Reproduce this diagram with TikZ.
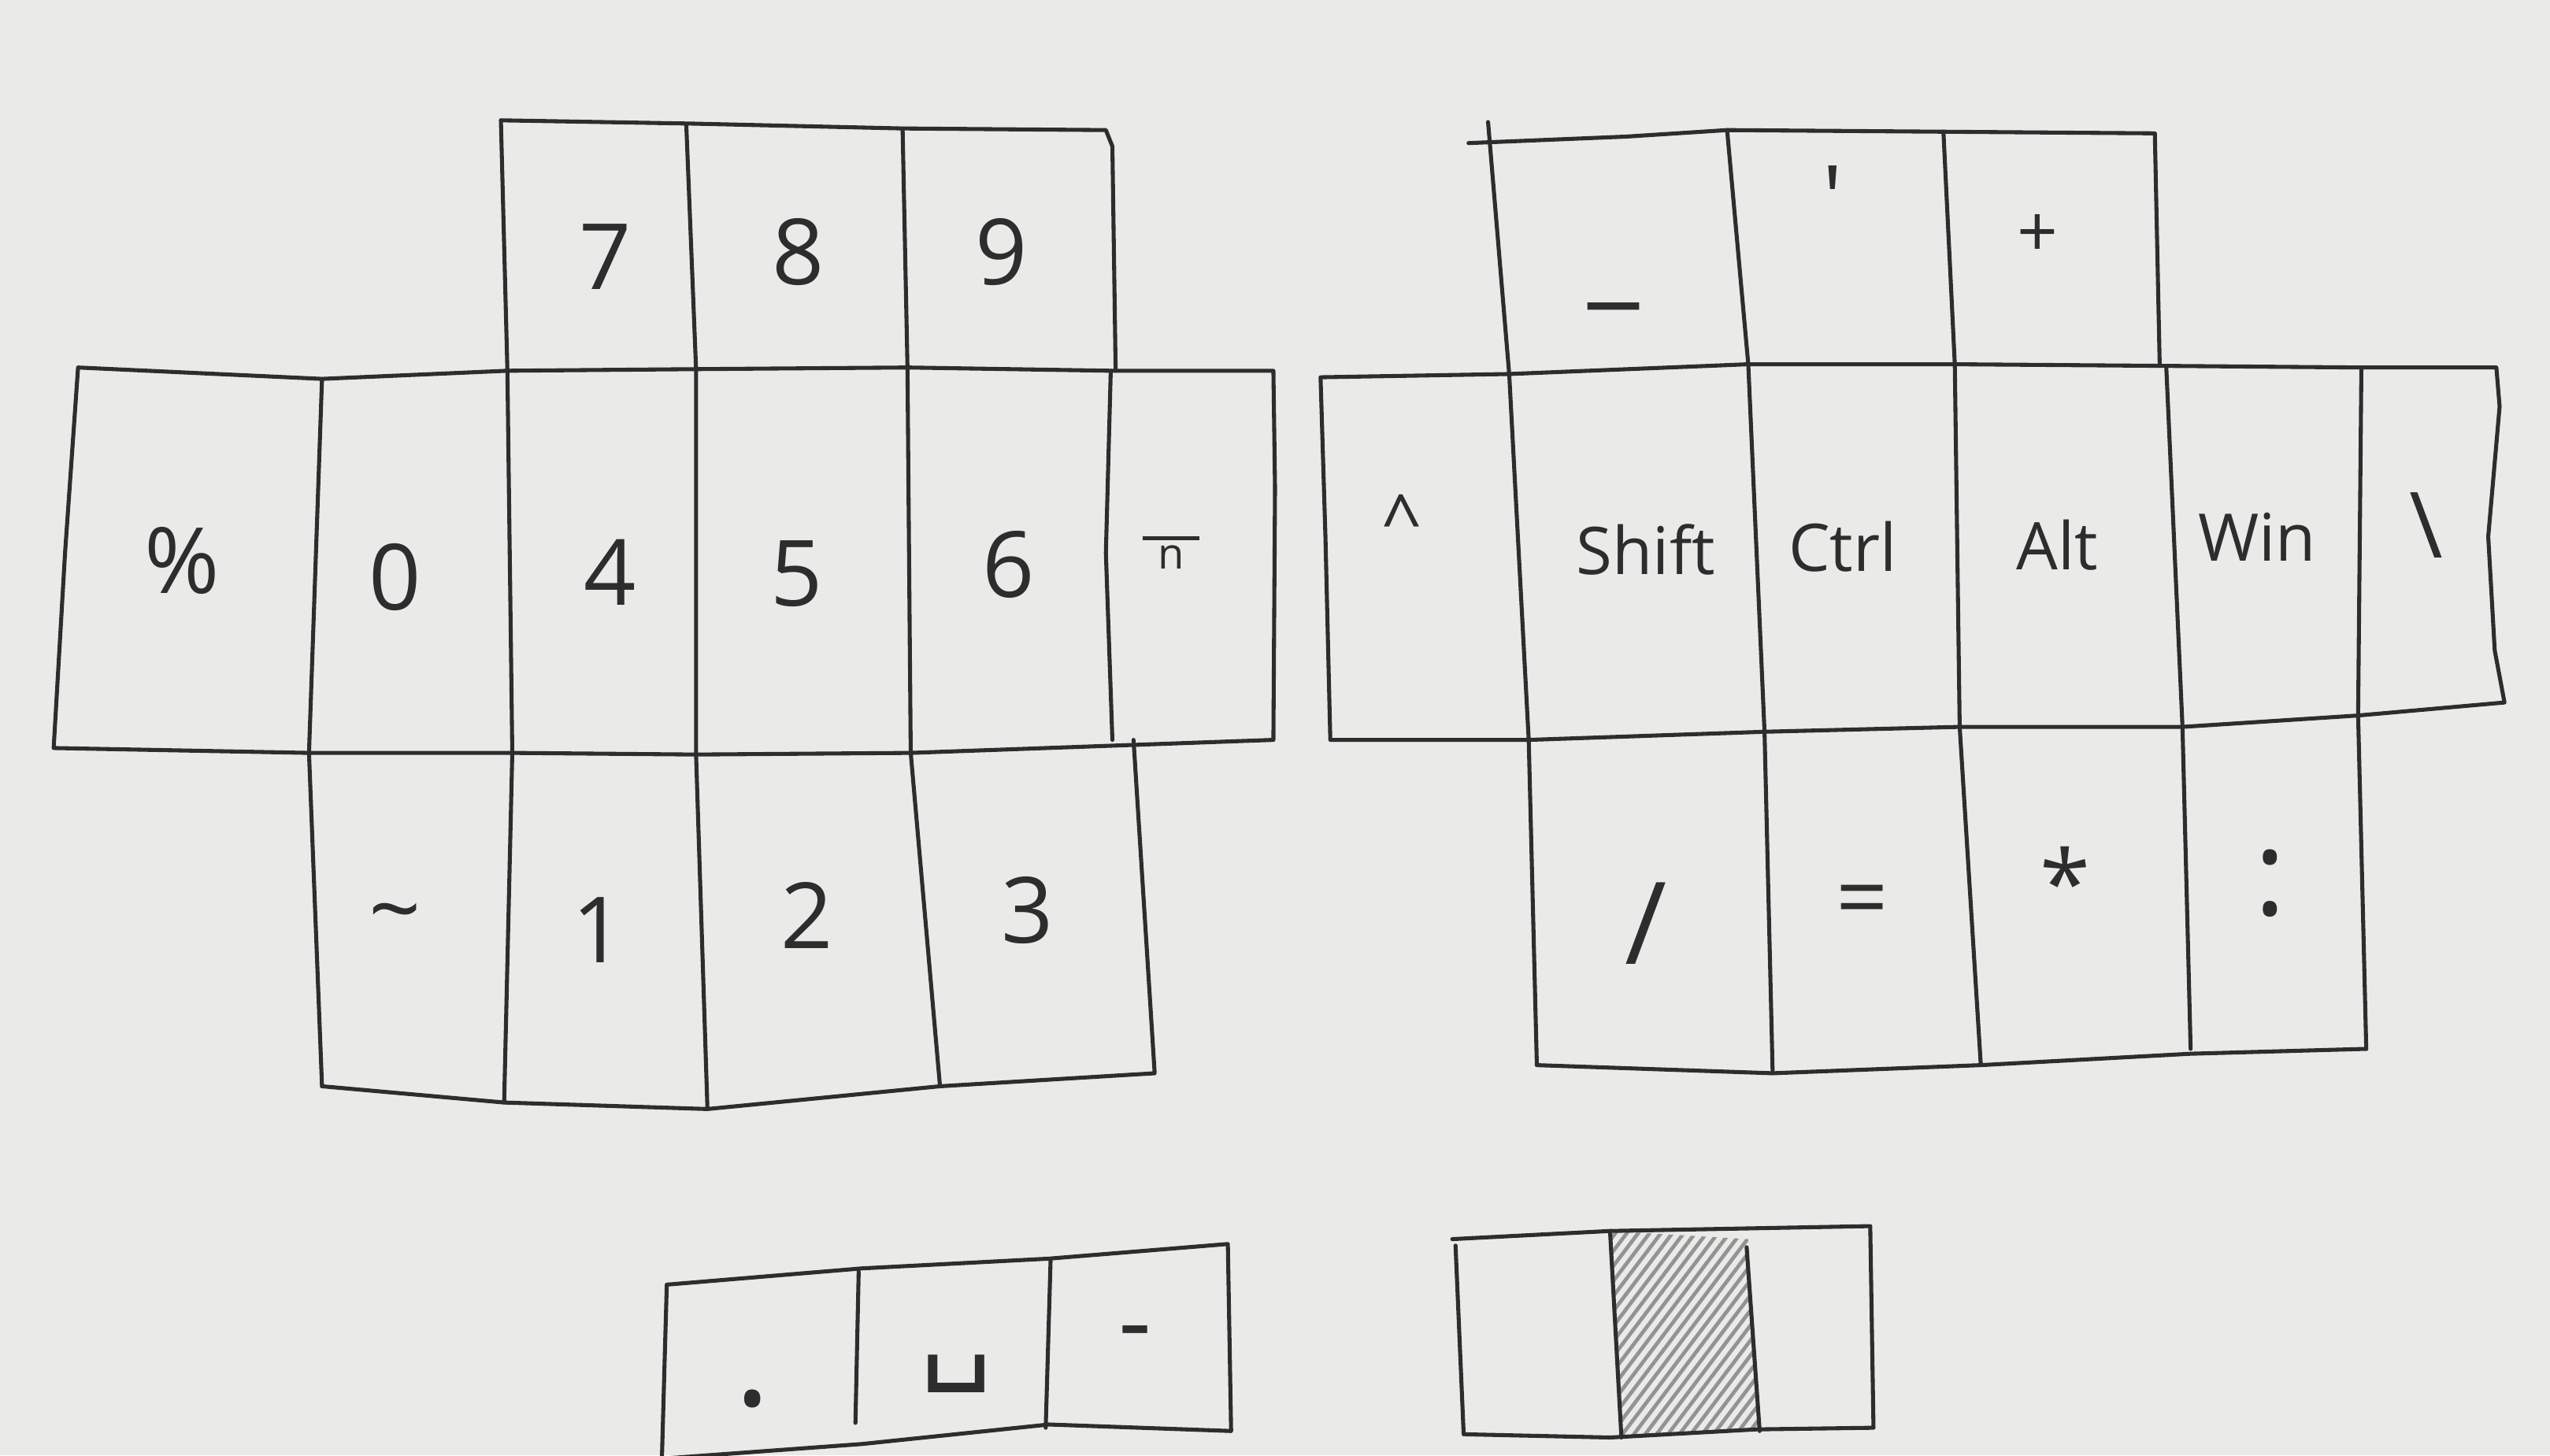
\documentclass[tikz,border=0pt]{standalone}
\usepackage{fontspec}
\setmainfont{Open Sans}
\newfontfamily\symfont{DejaVu Sans}
\definecolor{paper}{RGB}{234,234,232}
\definecolor{ink}{RGB}{45,45,45}
\tikzset{
  edge/.style={draw=ink, line width=1.4pt, line join=round, line cap=round},
  keylab/.style={text=ink, inner sep=0pt, font=\fontsize{32}{36}\selectfont},
  modlab/.style={text=ink, inner sep=0pt, font=\fontsize{23}{26}\selectfont},
  smalllab/.style={text=ink, inner sep=0pt, font=\fontsize{25}{28}\selectfont},
}
\begin{document}
\begin{tikzpicture}[x=0.02cm, y=-0.02cm]
\fill[paper] (0,0) rectangle (1568,895);
\useasboundingbox (0,0) rectangle (1568,895);

% ---------------- left cluster ----------------
% top row outline
\path[edge] (308,74) -- (425,76) -- (555,79) -- (680,80) -- (684,90) -- (686,228);
% middle row outline
\path[edge] (48,226) -- (198,233) -- (312,228) -- (428,227) -- (558,226) -- (683,228) -- (783,228)
  -- (784,300) -- (783,455) -- (560,463) -- (428,464) -- (315,463) -- (190,463) -- (33,460) -- (40,340) -- cycle;
% column lines
\path[edge] (308,74) -- (312,228) -- (315,463) -- (310,678);
\path[edge] (422,77) -- (428,227) -- (428,464) -- (435,682);
\path[edge] (555,79) -- (558,226) -- (560,463) -- (578,668);
\path[edge] (683,228) -- (680,340) -- (684,455);
\path[edge] (198,233) -- (190,463) -- (198,668);
% bottom row outline
\path[edge] (198,668) -- (310,678) -- (435,682) -- (578,668) -- (710,660) -- (697,455);

% ---------------- right cluster ----------------
\path[edge] (903,88) -- (1000,84) -- (1062,80) -- (1195,81) -- (1325,82) -- (1328,225);
\path[edge] (915,75) -- (928,230) -- (940,455) -- (945,655);
\path[edge] (812,232) -- (928,230) -- (1075,224) -- (1202,224) -- (1332,225) -- (1452,226) -- (1535,226)
  -- (1537,250) -- (1530,330) -- (1534,400) -- (1540,432) -- (1450,440) -- (1342,447) -- (1205,447)
  -- (1085,450) -- (940,455) -- (818,455) -- (815,330) -- cycle;
\path[edge] (1062,80) -- (1075,224) -- (1085,450) -- (1090,660);
\path[edge] (1195,81) -- (1202,224) -- (1205,447) -- (1218,655);
\path[edge] (1332,225) -- (1342,447) -- (1347,645);
\path[edge] (1452,226) -- (1450,440) -- (1455,645);
\path[edge] (945,655) -- (1090,660) -- (1218,655) -- (1347,648) -- (1455,645);

% ---------------- left thumb cluster ----------------
\path[edge] (407,897) -- (410,790) -- (530,780) -- (645,774) -- (755,765) -- (757,880)
  -- (645,876) -- (530,888) -- (407,897);
\path[edge] (528,782) -- (526,875);
\path[edge] (646,775) -- (643,878);

% ---------------- right thumb cluster ----------------
\begin{scope}
  \clip (990,757) -- (1075,762) -- (1082,880) -- (997,884) -- cycle;
  \foreach \i in {830,837,...,1110}
    \draw[gray!85, line width=1.3pt, line cap=round] (\i,900) -- ++(125,-165);
\end{scope}
\path[edge] (893,762) -- (990,757) -- (1150,754) -- (1152,878) -- (1080,879) -- (990,884) -- (900,882) -- (895,766);
\path[edge] (990,757) -- (997,884);
\path[edge] (1074,767) -- (1082,880);

% ---------------- labels, left ----------------
\node[keylab] (k7) at (372,158) {7};
\node[keylab] (k8) at (491,155) {8};
\node[keylab] (k9) at (616,155) {9};
\node[keylab] (kpct) at (112,345) {\%};
\node[keylab] (k0) at (243,355) {0};
\node[keylab] (k4) at (375,352) {4};
\node[keylab] (k5) at (490,353) {5};
\node[keylab] (k6) at (620,347) {6};
\node[text=ink, inner sep=0pt] (kn) at (720,340)
  {\shortstack{\rule{0.7cm}{1.3pt}\\[-1pt]{\fontsize{15}{16}\selectfont n}}};
\node[keylab] (ktil) at (243,567) {\textasciitilde};
\node[keylab] (k1) at (368,572) {1};
\node[keylab] (k2) at (496,563) {2};
\node[keylab] (k3) at (632,560) {3};

% ---------------- labels, right ----------------
\node[keylab, font=\fontsize{40}{44}\selectfont, anchor=base] (kus) at (992,180) {\_};
\node[keylab] (kq) at (1127,122) {\textquotesingle};
\node[smalllab] (kplus) at (1253,145) {+};
\node[smalllab] (kcar) at (862,320) {\textasciicircum};
\node[modlab] (kshift) at (1012,338) {Shift};
\node[modlab] (kctrl) at (1133,336) {Ctrl};
\node[modlab] (kalt) at (1265,335) {Alt};
\node[modlab] (kwin) at (1388,330) {Win};
\node[keylab] (kbs) at (1492,323) {\textbackslash};
\node[keylab, font=\fontsize{40}{44}\selectfont] (kslash) at (1012,568) {/};
\node[keylab] (keq) at (1145,558) {=};
\node[keylab] (kast) at (1270,542) {*};
\node[keylab, font=\fontsize{42}{46}\selectfont] (kcol) at (1396,543) {:};

% ---------------- labels, thumbs ----------------
\node[keylab, font=\fontsize{48}{52}\selectfont] (kdot) at (463,860) {.};
\node[text=ink, inner sep=0pt, font=\symfont\fontsize{40}{44}\selectfont] (kspace) at (588,845) {␣};
\node[keylab, font=\fontsize{36}{40}\selectfont] (kminus) at (698,825) {-};
\end{tikzpicture}
\end{document}
